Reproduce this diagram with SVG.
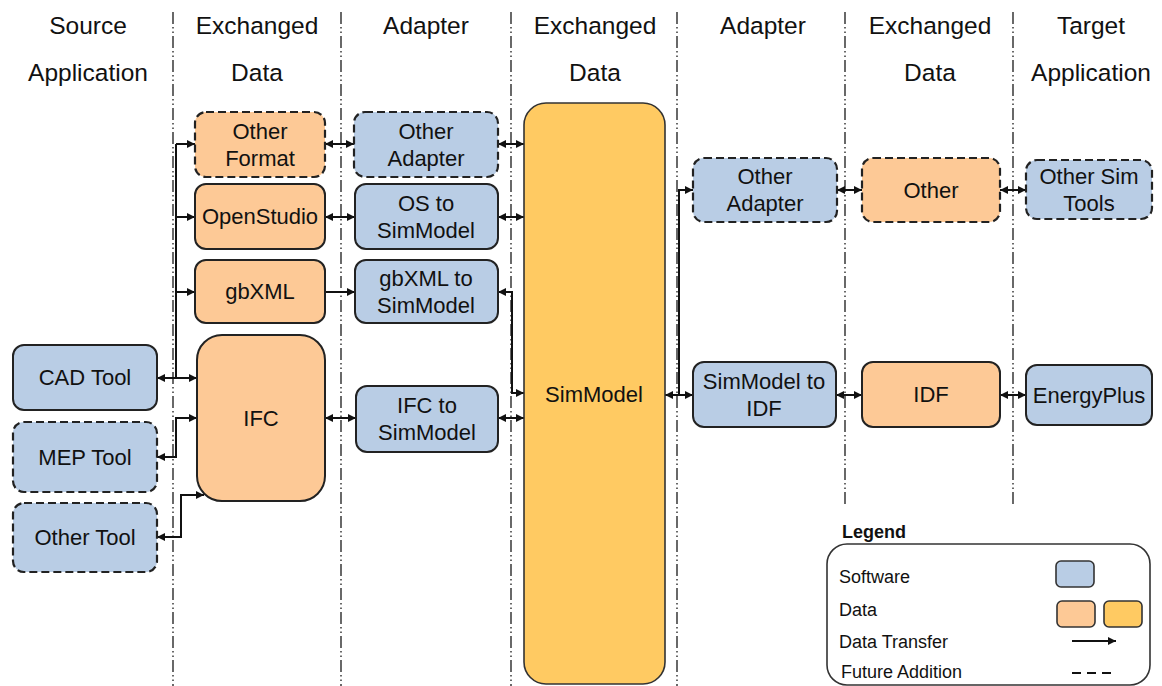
<svg xmlns="http://www.w3.org/2000/svg" width="1162" height="686" viewBox="0 0 1162 686">
<defs>
<marker id="ah" viewBox="0 0 10 10" refX="10" refY="5" markerWidth="9" markerHeight="8" markerUnits="userSpaceOnUse" orient="auto-start-reverse"><path d="M0,0 L10,5 L0,10 z" fill="#111"/></marker>
<style>
text{font-family:"Liberation Sans",Arial,sans-serif;fill:#111;}
.hd{font-size:24.5px;text-anchor:middle;}
.nt{font-size:22px;text-anchor:middle;}
.lg{font-size:18px;}
.sw{fill:#b9cde5;stroke:#222;stroke-width:2;}
.dt{fill:#fdc996;stroke:#222;stroke-width:2;}
.sm{fill:#ffca62;stroke:#333;stroke-width:1.6;}
.fut{stroke-dasharray:8 4;stroke-width:2.2;}
.sep{stroke:#444;stroke-width:1.6;fill:none;stroke-dasharray:12 3 1.5 3 1.5 3;}
.cn{fill:none;stroke:#111;stroke-width:2;}
.b{marker-start:url(#ah);marker-end:url(#ah);}
.e{marker-end:url(#ah);}
</style>
</defs>
<rect width="1162" height="686" fill="#fff"/>
<g id="separators">
<line class="sep" x1="173" y1="12" x2="173" y2="686"/>
<line class="sep" x1="341" y1="12" x2="341" y2="686"/>
<line class="sep" x1="511" y1="12" x2="511" y2="686"/>
<line class="sep" x1="677" y1="12" x2="677" y2="686"/>
<line class="sep" x1="845" y1="12" x2="845" y2="505"/>
<line class="sep" x1="1013" y1="12" x2="1013" y2="505"/>
</g>
<g id="headers">
<text class="hd" x="88" y="34">Source</text>
<text class="hd" x="88" y="81">Application</text>
<text class="hd" x="257" y="34">Exchanged</text>
<text class="hd" x="257" y="81">Data</text>
<text class="hd" x="426" y="34">Adapter</text>
<text class="hd" x="595" y="34">Exchanged</text>
<text class="hd" x="595" y="81">Data</text>
<text class="hd" x="763" y="34">Adapter</text>
<text class="hd" x="930" y="34">Exchanged</text>
<text class="hd" x="930" y="81">Data</text>
<text class="hd" x="1091" y="34">Target</text>
<text class="hd" x="1091" y="81">Application</text>
</g>
<g id="connectors">
<path class="cn" d="M176,144 V378"/>
<path class="cn e" d="M176,144 H195"/>
<path class="cn e" d="M176,217 H195"/>
<path class="cn e" d="M176,292 H195"/>
<path class="cn b" d="M157,378 H197"/>
<path class="cn b" d="M157,457 H176 V418 H197"/>
<path class="cn b" d="M157,537 H181 V495 H204"/>
<path class="cn b" d="M325,144 H354"/>
<path class="cn b" d="M325,217 H355"/>
<path class="cn e" d="M325,292 H355"/>
<path class="cn b" d="M325,418 H356"/>
<path class="cn b" d="M498,144 H524"/>
<path class="cn b" d="M498,217 H524"/>
<path class="cn b" d="M498,292 H512 V393 H524"/>
<path class="cn b" d="M498,418 H524"/>
<path class="cn b" d="M665,395 H693"/>
<path class="cn e" d="M679,395 V190 H693"/>
<path class="cn b" d="M837,190 H862"/>
<path class="cn b" d="M1000,190 H1026"/>
<path class="cn b" d="M836,395 H862"/>
<path class="cn b" d="M1000,395 H1026"/>
</g>
<g id="cad-tool"><rect class="sw" x="13" y="345" width="144" height="65" rx="11"/><text class="nt" x="85" y="385">CAD Tool</text></g>
<g id="mep-tool"><rect class="sw fut" x="13" y="422" width="144" height="70" rx="11"/><text class="nt" x="85" y="465">MEP Tool</text></g>
<g id="other-tool"><rect class="sw fut" x="13" y="503" width="144" height="69" rx="11"/><text class="nt" x="85" y="545">Other Tool</text></g>
<g id="other-format"><rect class="dt fut" x="195" y="112" width="130" height="65" rx="11"/><text class="nt" x="260" y="139">Other</text><text class="nt" x="260" y="166">Format</text></g>
<g id="openstudio"><rect class="dt" x="195" y="184" width="130" height="65" rx="11"/><text class="nt" x="260" y="224">OpenStudio</text></g>
<g id="gbxml"><rect class="dt" x="195" y="260" width="130" height="63" rx="11"/><text class="nt" x="260" y="299">gbXML</text></g>
<g id="ifc"><rect class="dt" x="197" y="335" width="128" height="166" rx="25"/><text class="nt" x="261" y="426">IFC</text></g>
<g id="other-adapter-left"><rect class="sw fut" x="354" y="112" width="144" height="65" rx="11"/><text class="nt" x="426" y="139">Other</text><text class="nt" x="426" y="166">Adapter</text></g>
<g id="os-to-simmodel"><rect class="sw" x="355" y="184" width="143" height="65" rx="11"/><text class="nt" x="426" y="211">OS to</text><text class="nt" x="426" y="238">SimModel</text></g>
<g id="gbxml-to-simmodel"><rect class="sw" x="355" y="260" width="143" height="63" rx="11"/><text class="nt" x="426" y="286">gbXML to</text><text class="nt" x="426" y="313">SimModel</text></g>
<g id="ifc-to-simmodel"><rect class="sw" x="356" y="386" width="142" height="66" rx="11"/><text class="nt" x="427" y="413">IFC to</text><text class="nt" x="427" y="440">SimModel</text></g>
<g id="simmodel"><rect class="sm" x="524" y="103" width="141" height="581" rx="22"/><text class="nt" x="594" y="402">SimModel</text></g>
<g id="other-adapter-right"><rect class="sw fut" x="693" y="158" width="144" height="64" rx="11"/><text class="nt" x="765" y="184">Other</text><text class="nt" x="765" y="211">Adapter</text></g>
<g id="other"><rect class="dt fut" x="862" y="158" width="138" height="64" rx="11"/><text class="nt" x="931" y="198">Other</text></g>
<g id="other-sim-tools"><rect class="sw fut" x="1026" y="160" width="126" height="59" rx="11"/><text class="nt" x="1089" y="184">Other Sim</text><text class="nt" x="1089" y="211">Tools</text></g>
<g id="simmodel-to-idf"><rect class="sw" x="693" y="362" width="143" height="65" rx="11"/><text class="nt" x="764" y="389">SimModel to</text><text class="nt" x="764" y="416">IDF</text></g>
<g id="idf"><rect class="dt" x="862" y="362" width="138" height="65" rx="11"/><text class="nt" x="931" y="402">IDF</text></g>
<g id="energyplus"><rect class="sw" x="1026" y="365" width="126" height="60" rx="11"/><text class="nt" x="1089" y="403">EnergyPlus</text></g>
<g id="legend">
<text x="842" y="538" style="font-size:18px;font-weight:bold;">Legend</text>
<rect x="827" y="544" width="323" height="141" rx="20" fill="#fff" stroke="#333" stroke-width="1.6"/>
<text class="lg" x="839" y="583">Software</text>
<rect x="1056" y="561" width="38" height="26" rx="5" fill="#b9cde5" stroke="#333" stroke-width="1.6"/>
<text class="lg" x="839" y="616">Data</text>
<rect x="1057" y="601" width="38" height="26" rx="5" fill="#fdc996" stroke="#333" stroke-width="1.6"/>
<rect x="1104" y="601" width="38" height="26" rx="5" fill="#ffca62" stroke="#333" stroke-width="1.6"/>
<text class="lg" x="839" y="648">Data Transfer</text>
<path d="M1072,641 H1116" stroke="#111" stroke-width="2" marker-end="url(#ah)"/>
<text class="lg" x="841" y="678">Future Addition</text>
<path d="M1072,673 H1115" stroke="#111" stroke-width="2" stroke-dasharray="9 6"/>
</g>
</svg>
